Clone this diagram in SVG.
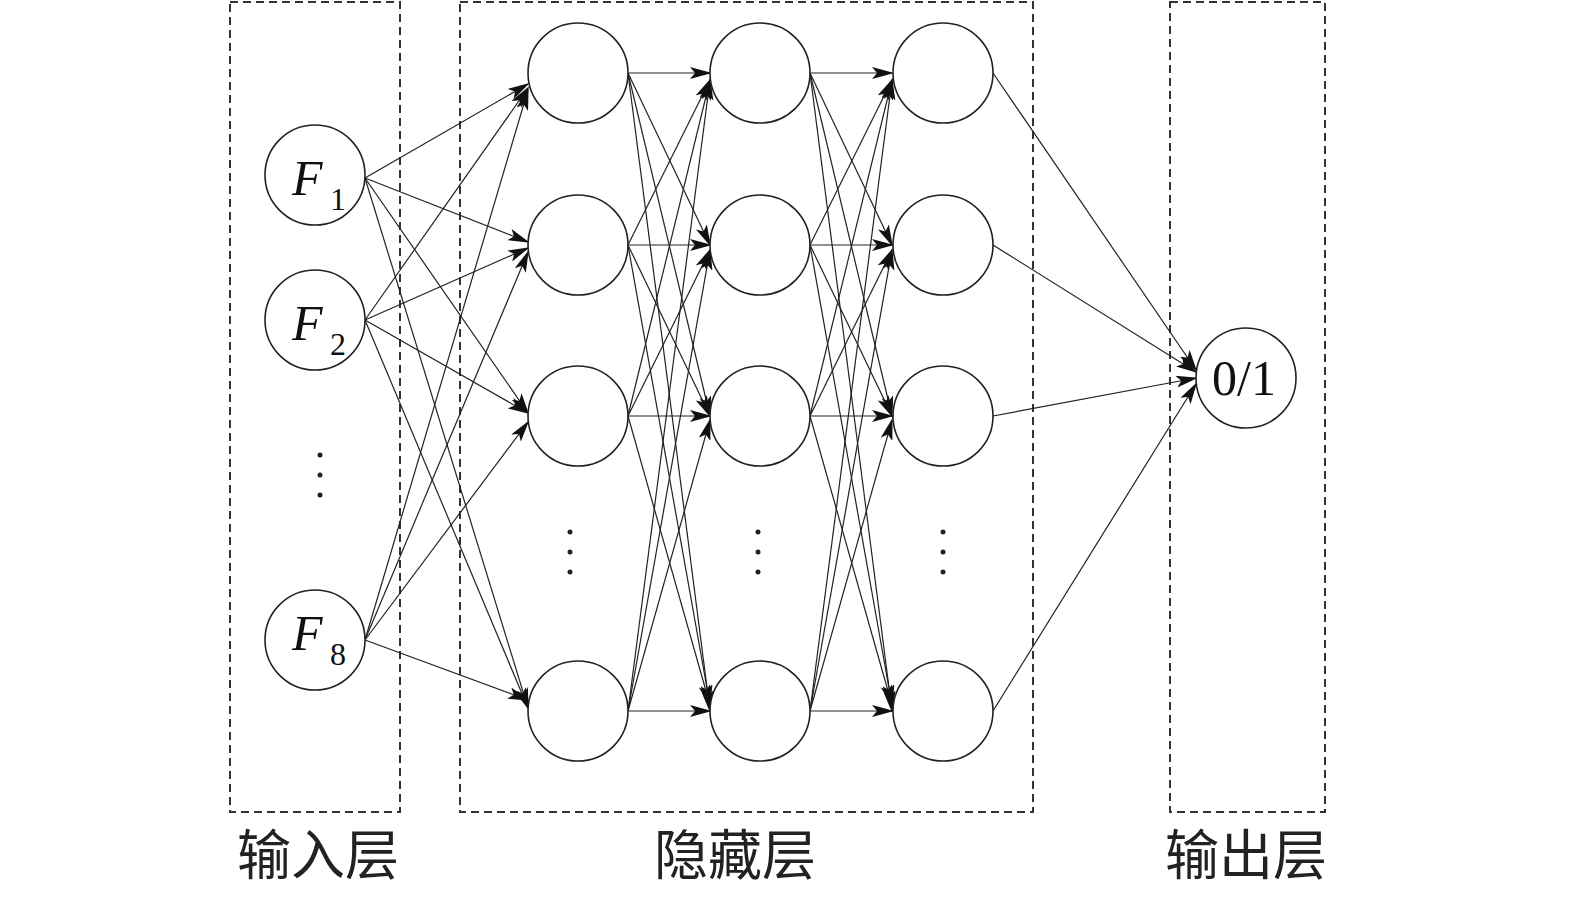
<svg xmlns="http://www.w3.org/2000/svg" width="1575" height="898" viewBox="0 0 1575 898">
<style>
.box{fill:none;stroke:#333;stroke-width:2;stroke-dasharray:8,5}
.n{fill:#fff;stroke:#222;stroke-width:1.6}
.e path{stroke:#222;stroke-width:1.2;fill:none;marker-end:url(#a)}
.f{font-family:"Liberation Serif",serif;font-style:italic;font-size:50px;fill:#111}
.s{font-family:"Liberation Serif",serif;font-size:32px;fill:#111}
.l{font-family:"Noto Sans CJK SC",sans-serif;font-size:54px;fill:#222}
.d{fill:#222}
</style>
<defs><marker id="a" markerUnits="userSpaceOnUse" markerWidth="22" markerHeight="12" refX="20" refY="6" orient="auto"><path d="M0,0 L22,6 L0,12 L5,6 Z" fill="#111"/></marker></defs>
<rect class="box" x="230" y="2" width="170" height="810"/>
<rect class="box" x="460" y="2" width="573" height="810"/>
<rect class="box" x="1170" y="2" width="155" height="810"/>
<g id="edges" class="e">
<path d="M365,178L528,84"/><path d="M365,178L528,242"/><path d="M365,178L528,413"/><path d="M365,178L528,708"/>
<path d="M365,320L528,88"/><path d="M365,320L528,248"/><path d="M365,320L528,413"/><path d="M365,320L528,708"/>
<path d="M365,640L528,90"/><path d="M365,640L528,252"/><path d="M365,640L528,422"/><path d="M365,640L528,700"/>
<path d="M628,73L710,73"/><path d="M628,73L710,245"/><path d="M628,73L710,416"/><path d="M628,73L710,711"/>
<path d="M628,245L710,80"/><path d="M628,245L710,245"/><path d="M628,245L710,416"/><path d="M628,245L710,705"/>
<path d="M628,416L710,80"/><path d="M628,416L710,250"/><path d="M628,416L710,416"/><path d="M628,416L710,705"/>
<path d="M628,711L710,80"/><path d="M628,711L710,250"/><path d="M628,711L710,420"/><path d="M628,711L710,711"/>
<path d="M810,73L892,73"/><path d="M810,73L892,245"/><path d="M810,73L892,416"/><path d="M810,73L892,711"/>
<path d="M810,245L892,80"/><path d="M810,245L892,245"/><path d="M810,245L892,416"/><path d="M810,245L892,705"/>
<path d="M810,416L892,80"/><path d="M810,416L892,250"/><path d="M810,416L892,416"/><path d="M810,416L892,705"/>
<path d="M810,711L892,80"/><path d="M810,711L892,250"/><path d="M810,711L892,420"/><path d="M810,711L892,711"/>
<path d="M993,73L1196,370"/><path d="M993,245L1196,372"/><path d="M993,416L1196,378"/><path d="M993,711L1196,384"/>
</g>
<g id="in1"><circle class="n" cx="315" cy="175" r="50"/><text class="f" x="292" y="195">F</text><text class="s" x="330" y="210">1</text></g>
<g id="in2"><circle class="n" cx="315" cy="320" r="50"/><text class="f" x="292" y="340">F</text><text class="s" x="330" y="355">2</text></g>
<g id="in8"><circle class="n" cx="315" cy="640" r="50"/><text class="f" x="292" y="650">F</text><text class="s" x="330" y="665">8</text></g>
<g id="dots"><circle class="d" cx="320" cy="455" r="2.5"/><circle class="d" cx="320" cy="475" r="2.5"/><circle class="d" cx="320" cy="495" r="2.5"/>
<circle class="d" cx="570" cy="532" r="2.5"/><circle class="d" cx="570" cy="552" r="2.5"/><circle class="d" cx="570" cy="572" r="2.5"/>
<circle class="d" cx="758" cy="532" r="2.5"/><circle class="d" cx="758" cy="552" r="2.5"/><circle class="d" cx="758" cy="572" r="2.5"/>
<circle class="d" cx="943" cy="532" r="2.5"/><circle class="d" cx="943" cy="552" r="2.5"/><circle class="d" cx="943" cy="572" r="2.5"/></g>
<g id="h1"><circle class="n" cx="578" cy="73" r="50"/><circle class="n" cx="578" cy="245" r="50"/><circle class="n" cx="578" cy="416" r="50"/><circle class="n" cx="578" cy="711" r="50"/></g>
<g id="h2"><circle class="n" cx="760" cy="73" r="50"/><circle class="n" cx="760" cy="245" r="50"/><circle class="n" cx="760" cy="416" r="50"/><circle class="n" cx="760" cy="711" r="50"/></g>
<g id="h3"><circle class="n" cx="943" cy="73" r="50"/><circle class="n" cx="943" cy="245" r="50"/><circle class="n" cx="943" cy="416" r="50"/><circle class="n" cx="943" cy="711" r="50"/></g>
<g id="out"><circle class="n" cx="1246" cy="378" r="50"/><text x="1244" y="395" text-anchor="middle" style="font-family:'Liberation Serif',serif;font-size:50px;fill:#111">0/1</text></g>
<text class="l" x="318" y="875" text-anchor="middle">输入层</text>
<text class="l" x="735" y="875" text-anchor="middle">隐藏层</text>
<text class="l" x="1246" y="875" text-anchor="middle">输出层</text>
</svg>
